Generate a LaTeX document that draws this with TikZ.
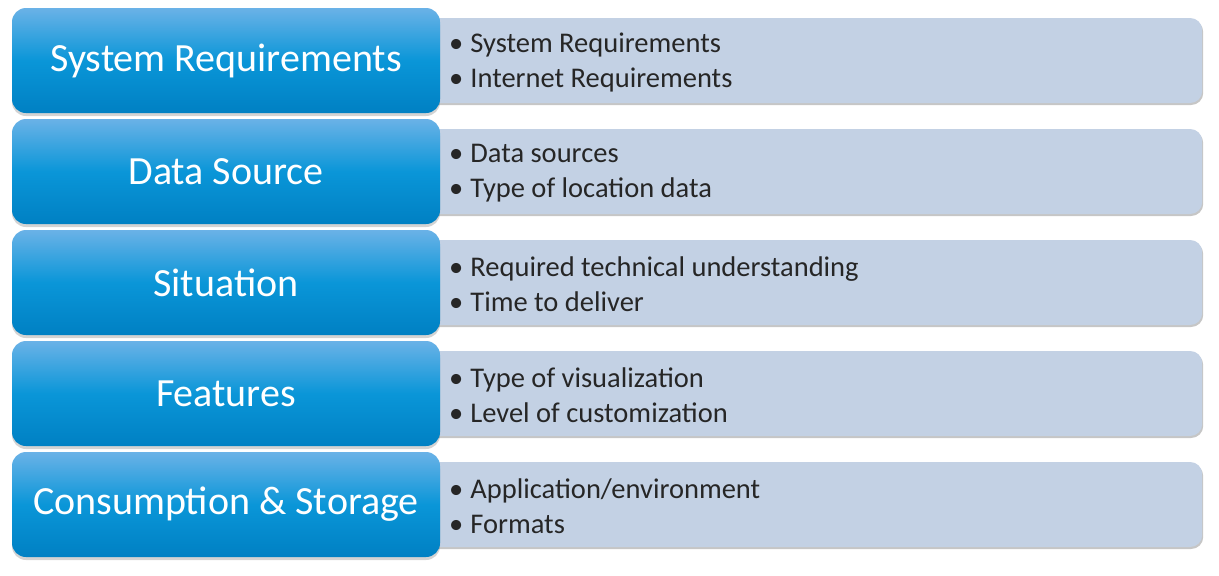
\documentclass[tikz,border=0pt]{standalone}
\usepackage{fontspec}
\setmainfont{Carlito}
\usetikzlibrary{positioning,shadows}
\definecolor{topictop}{HTML}{6AB2E7}
\definecolor{topicmid}{HTML}{0A96D8}
\definecolor{topicbot}{HTML}{0080C3}
\definecolor{listfill}{HTML}{C3D1E4}
\definecolor{listtext}{HTML}{262626}

\begin{document}
\begin{tikzpicture}[x=1pt,y=-1pt,
	topic/.style={rounded corners=14pt,minimum width=428pt,minimum height=105pt,
		top color=topictop,bottom color=topicbot,middle color=topicmid,
		text=white,font=\fontsize{40}{46}\selectfont,
		drop shadow={shadow xshift=0pt,shadow yshift=-3pt,opacity=0.35}},
	detail/.style={rounded corners=12pt,minimum width=777pt,minimum height=85pt,
		fill=listfill,
		drop shadow={shadow xshift=1pt,shadow yshift=-2pt,opacity=0.45}},
	items/.style={inner sep=0pt,align=left,text=listtext,
		font=\fontsize{28.5}{35}\selectfont}]
	\useasboundingbox (0,0) rectangle (1219,576);
	%one row per topic
	\foreach \title/\first/\second [count=\i from 0] in
		{{System Requirements}/{System Requirements}/{Internet Requirements},
		 {Data Source}/{Data sources}/{Type of location data},
		 {Situation}/{Required technical understanding}/{Time to deliver},
		 {Features}/{Type of visualization}/{Level of customization},
		 {Consumption \& Storage}/{Application/environment}/{Formats}}
	{
		\coordinate (c\i) at (226,{60.5+111*\i});
		%list box behind the topic box
		\node[detail,right=-15pt of c\i,xshift=214pt] (list\i) {};
		\node[topic] (topic\i) at (c\i) {\title};
		\node[items,anchor=west] (text\i) at ([xshift=24pt,yshift=-2pt]list\i.west)
			{\textbullet\hspace{7pt}\first\\\textbullet\hspace{7pt}\second};
	}
\end{tikzpicture}
\end{document}
